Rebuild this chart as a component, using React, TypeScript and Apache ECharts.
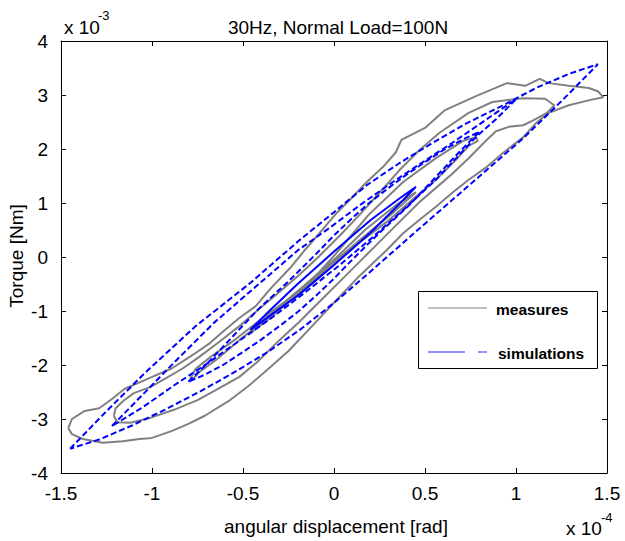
import React, { useEffect, useRef } from "react";
import * as echarts from "echarts";

// x values in units of 1e-4 rad, y values in units of 1e-3 Nm
const xTicks = [-1.5, -1, -0.5, 0, 0.5, 1, 1.5];
const yTicks = [-4, -3, -2, -1, 0, 1, 2, 3, 4];

// ---- measures (gray) ----
const measLargeX = [-1.46, -1.44, -1.37, -1.29, -1.22, -1.15, -1.04, -0.89, -0.77, -0.68, -0.6, -0.52, -0.43, -0.35, -0.24, -0.16, -0.08, 0.01, 0.09, 0.18, 0.27, 0.34, 0.37, 0.5, 0.61, 0.78, 0.95, 1.05, 1.13, 1.18, 1.29, 1.4, 1.45, 1.48,
  1.41, 1.29, 1.18, 1.11, 1.04, 0.93, 0.84, 0.74, 0.65, 0.56, 0.47, 0.38, 0.29, 0.14, 0.01, -0.14, -0.25, -0.36, -0.47, -0.58, -0.71, -0.8, -0.89, -1.0, -1.07, -1.16, -1.27, -1.38, -1.44, -1.46];
const measLargeY = [-3.17, -3.0, -2.85, -2.8, -2.63, -2.44, -2.28, -2.06, -1.8, -1.59, -1.35, -1.13, -0.91, -0.59, -0.2, 0.13, 0.44, 0.8, 1.07, 1.39, 1.67, 1.94, 2.17, 2.39, 2.72, 2.98, 3.22, 3.17, 3.3, 3.22, 3.17, 3.13, 3.07, 2.96,
  2.91, 2.81, 2.67, 2.48, 2.22, 1.93, 1.67, 1.43, 1.19, 0.93, 0.69, 0.44, 0.13, -0.35, -0.81, -1.35, -1.74, -2.07, -2.39, -2.67, -2.94, -3.09, -3.22, -3.35, -3.37, -3.41, -3.44, -3.37, -3.28, -3.17];

const measMidX = [-1.21, -1.2, -1.16, -1.1, -1.01, -0.92, -0.83, -0.74, -0.63, -0.52, -0.41, -0.3, -0.19, -0.08, 0.03, 0.14, 0.25, 0.36, 0.47, 0.58, 0.74, 0.87, 1.04, 1.16, 1.21,
  1.17, 1.1, 1.04, 0.96, 0.89, 0.84, 0.74, 0.65, 0.56, 0.47, 0.36, 0.25, 0.14, 0.03, -0.08, -0.19, -0.3, -0.42, -0.52, -0.63, -0.75, -0.88, -1.01, -1.12, -1.19, -1.21];
const measMidY = [-2.94, -2.8, -2.67, -2.52, -2.41, -2.24, -2.06, -1.85, -1.57, -1.28, -0.96, -0.65, -0.33, 0.02, 0.39, 0.78, 1.19, 1.61, 1.98, 2.3, 2.67, 2.87, 2.94, 2.93, 2.81,
  2.67, 2.54, 2.44, 2.41, 2.33, 2.17, 1.83, 1.54, 1.28, 1.02, 0.65, 0.28, -0.09, -0.46, -0.83, -1.2, -1.54, -1.94, -2.22, -2.43, -2.65, -2.83, -2.98, -3.07, -3.06, -2.94];

const measSmallX = [-0.79, -0.76, -0.67, -0.54, -0.4, -0.25, -0.1, 0.01, 0.19, 0.38, 0.56, 0.71, 0.78,
  0.79, 0.74, 0.67, 0.56, 0.43, 0.29, 0.12, -0.02, -0.19, -0.35, -0.52, -0.65, -0.74, -0.78, -0.79];
const measSmallY = [-2.26, -2.07, -1.83, -1.52, -1.15, -0.78, -0.35, 0.06, 0.78, 1.39, 1.83, 2.15, 2.22,
  2.15, 2.06, 1.8, 1.43, 1.06, 0.65, 0.22, -0.2, -0.65, -1.09, -1.54, -1.91, -2.13, -2.28, -2.26];

const measTinyX = [-0.47, -0.35, -0.19, -0.02, 0.14, 0.31, 0.45, 0.34, 0.17, 0.01, -0.16, -0.32, -0.46, -0.47];
const measTinyY = [-1.44, -1.13, -0.65, -0.15, 0.31, 0.78, 1.2, 0.96, 0.5, -0.02, -0.52, -0.98, -1.41, -1.44];

// ---- simulations (blue) ----
const simLargeX = [-1.45, -1.26, -1.04, -0.76, -0.46, -0.19, 0, 0.18, 0.36, 0.54, 0.73, 0.93, 1.11, 1.29, 1.45,
  1.26, 1.04, 0.76, 0.46, 0.19, 0, -0.18, -0.36, -0.54, -0.73, -0.93, -1.11, -1.29, -1.45];
const simLargeY = [-3.55, -2.89, -2.15, -1.28, -0.48, 0.31, 0.83, 1.33, 1.74, 2.11, 2.48, 2.81, 3.13, 3.39, 3.57,
  2.92, 2.2, 1.38, 0.5, -0.3, -0.85, -1.33, -1.75, -2.12, -2.48, -2.83, -3.12, -3.38, -3.55];

const simMidX = [-1.22, -1.06, -0.88, -0.66, -0.42, -0.2, -0.02, 0.15, 0.32, 0.48, 0.63, 0.77, 0.89, 1.0,
  0.89, 0.78, 0.56, 0.38, 0.2, 0.02, -0.16, -0.34, -0.52, -0.7, -0.88, -1.05, -1.22];
const simMidY = [-3.13, -2.58, -1.96, -1.22, -0.52, 0.12, 0.55, 0.98, 1.38, 1.74, 2.07, 2.39, 2.67, 2.92,
  2.55, 2.22, 1.43, 0.87, 0.33, -0.18, -0.66, -1.12, -1.55, -1.98, -2.38, -2.78, -3.13];

const simSmallX = [-0.8, -0.69, -0.57, -0.42, -0.25, -0.1, 0, 0.1, 0.2, 0.3, 0.4, 0.51, 0.61, 0.71, 0.8,
  0.69, 0.57, 0.42, 0.25, 0.1, 0, -0.1, -0.2, -0.3, -0.4, -0.51, -0.61, -0.71, -0.8];
const simSmallY = [-2.31, -1.95, -1.52, -0.98, -0.45, 0.05, 0.4, 0.72, 1.02, 1.28, 1.53, 1.78, 2.0, 2.18, 2.32,
  1.95, 1.52, 0.98, 0.45, -0.05, -0.4, -0.72, -1.02, -1.28, -1.53, -1.78, -2.0, -2.18, -2.31];

const simTinyX = [-0.46, -0.35, -0.2, 0, 0.2, 0.35, 0.45, 0.35, 0.2, 0, -0.2, -0.35, -0.46];
const simTinyY = [-1.35, -0.98, -0.5, 0.1, 0.68, 1.06, 1.3, 0.95, 0.45, -0.15, -0.72, -1.08, -1.35];

const measureLoops = [
  [measLargeX, measLargeY],
  [measMidX, measMidY],
  [measSmallX, measSmallY],
  [measTinyX, measTinyY],
];
const simDashedLoops = [
  [simLargeX, simLargeY],
  [simMidX, simMidY],
  [simSmallX, simSmallY],
];

const pts = (xs: number[], ys: number[]) => xs.map((x, i) => [x, ys[i]]);

const FONT = "Liberation Sans, Arial, sans-serif";
const GRAY = "#808080";
const BLUE = "#0000ff";

export default function App() {
  const ref = useRef<HTMLDivElement>(null);
  useEffect(() => {
    if (!ref.current) return;
    const chart = echarts.init(ref.current, null, { renderer: "svg" });
    const axisCommon = {
      type: "value" as const,
      splitLine: { show: false },
      axisLine: { show: true, onZero: false, lineStyle: { color: "#000", width: 1 } },
      axisTick: { show: true, inside: true, length: 5, lineStyle: { color: "#000", width: 1 } },
    };
    const series: any[] = [];
    measureLoops.forEach(([xs, ys]) =>
      series.push({
        type: "line",
        name: "measures",
        data: pts(xs, ys),
        showSymbol: false,
        symbol: "none",
        smooth: false,
        lineStyle: { color: GRAY, width: 2 },
        z: 2,
      })
    );
    simDashedLoops.forEach(([xs, ys]) =>
      series.push({
        type: "line",
        name: "simulations",
        data: pts(xs, ys),
        showSymbol: false,
        symbol: "none",
        smooth: false,
        lineStyle: { color: BLUE, width: 2, type: [6, 3] },
        z: 3,
      })
    );
    series.push({
      type: "line",
      name: "simulations",
      data: pts(simTinyX, simTinyY),
      showSymbol: false,
      symbol: "none",
      smooth: false,
      lineStyle: { color: BLUE, width: 2 },
      z: 3,
    });

    chart.setOption({
      animation: false,
      backgroundColor: "#fff",
      grid: { left: 61, right: 18, top: 41, bottom: 68, containLabel: false },
      xAxis: [
        {
          ...axisCommon,
          min: -1.5,
          max: 1.5,
          interval: 0.5,
          position: "bottom",
          axisLabel: {
            color: "#000",
            fontSize: 19,
            fontFamily: FONT,
            margin: 11,
            formatter: (v: number) => String(v),
          },
        },
        {
          ...axisCommon,
          min: -1.5,
          max: 1.5,
          interval: 0.5,
          position: "top",
          axisLabel: { show: false },
        },
      ],
      yAxis: [
        {
          ...axisCommon,
          min: -4,
          max: 4,
          interval: 1,
          position: "left",
          axisLabel: {
            color: "#000",
            fontSize: 19,
            fontFamily: FONT,
            margin: 13,
            formatter: (v: number) => String(v),
          },
        },
        {
          ...axisCommon,
          min: -4,
          max: 4,
          interval: 1,
          position: "right",
          axisLabel: { show: false },
        },
      ],
      series,
      graphic: [
        {
          type: "text",
          x: 338,
          y: 27,
          style: { text: "30Hz, Normal Load=100N", font: `19px ${FONT}`, fill: "#000", textAlign: "center", textVerticalAlign: "middle" },
        },
        {
          type: "text",
          x: 64,
          y: 27,
          style: { text: "x 10", font: `19px ${FONT}`, fill: "#000", textAlign: "left", textVerticalAlign: "middle" },
        },
        {
          type: "text",
          x: 98,
          y: 15,
          style: { text: "-3", font: `13px ${FONT}`, fill: "#000", textAlign: "left", textVerticalAlign: "middle" },
        },
        {
          type: "text",
          x: 566,
          y: 528,
          style: { text: "x 10", font: `19px ${FONT}`, fill: "#000", textAlign: "left", textVerticalAlign: "middle" },
        },
        {
          type: "text",
          x: 601,
          y: 517,
          style: { text: "-4", font: `13px ${FONT}`, fill: "#000", textAlign: "left", textVerticalAlign: "middle" },
        },
        {
          type: "text",
          x: 336,
          y: 526,
          style: { text: "angular displacement [rad]", font: `19px ${FONT}`, fill: "#000", textAlign: "center", textVerticalAlign: "middle" },
        },
        {
          type: "text",
          x: 16,
          y: 256,
          rotation: Math.PI / 2,
          style: { text: "Torque [Nm]", font: `19px ${FONT}`, fill: "#000", textAlign: "center", textVerticalAlign: "middle" },
        },
        // legend
        {
          type: "rect",
          shape: { x: 418.5, y: 291.5, width: 179, height: 77 },
          style: { fill: "#fff", stroke: "#000", lineWidth: 1 },
          z: 10,
        },
        {
          type: "line",
          shape: { x1: 428, y1: 308, x2: 487, y2: 308 },
          style: { stroke: "#aaaaaa", lineWidth: 1.5 },
          z: 11,
        },
        {
          type: "text",
          x: 496,
          y: 309,
          style: { text: "measures", font: `bold 15.5px ${FONT}`, fill: "#000", textAlign: "left", textVerticalAlign: "middle" },
          z: 11,
        },
        {
          type: "line",
          shape: { x1: 428, y1: 352, x2: 465, y2: 352 },
          style: { stroke: "#6f6fff", lineWidth: 1.5 },
          z: 11,
        },
        {
          type: "line",
          shape: { x1: 478, y1: 352, x2: 487, y2: 352 },
          style: { stroke: "#6f6fff", lineWidth: 1.5 },
          z: 11,
        },
        {
          type: "text",
          x: 498,
          y: 353,
          style: { text: "simulations", font: `bold 15.5px ${FONT}`, fill: "#000", textAlign: "left", textVerticalAlign: "middle" },
          z: 11,
        },
      ],
    });
    return () => chart.dispose();
  }, []);
  return <div ref={ref} style={{ position: "fixed", left: 0, top: 0, width: 625, height: 541 }} />;
}
